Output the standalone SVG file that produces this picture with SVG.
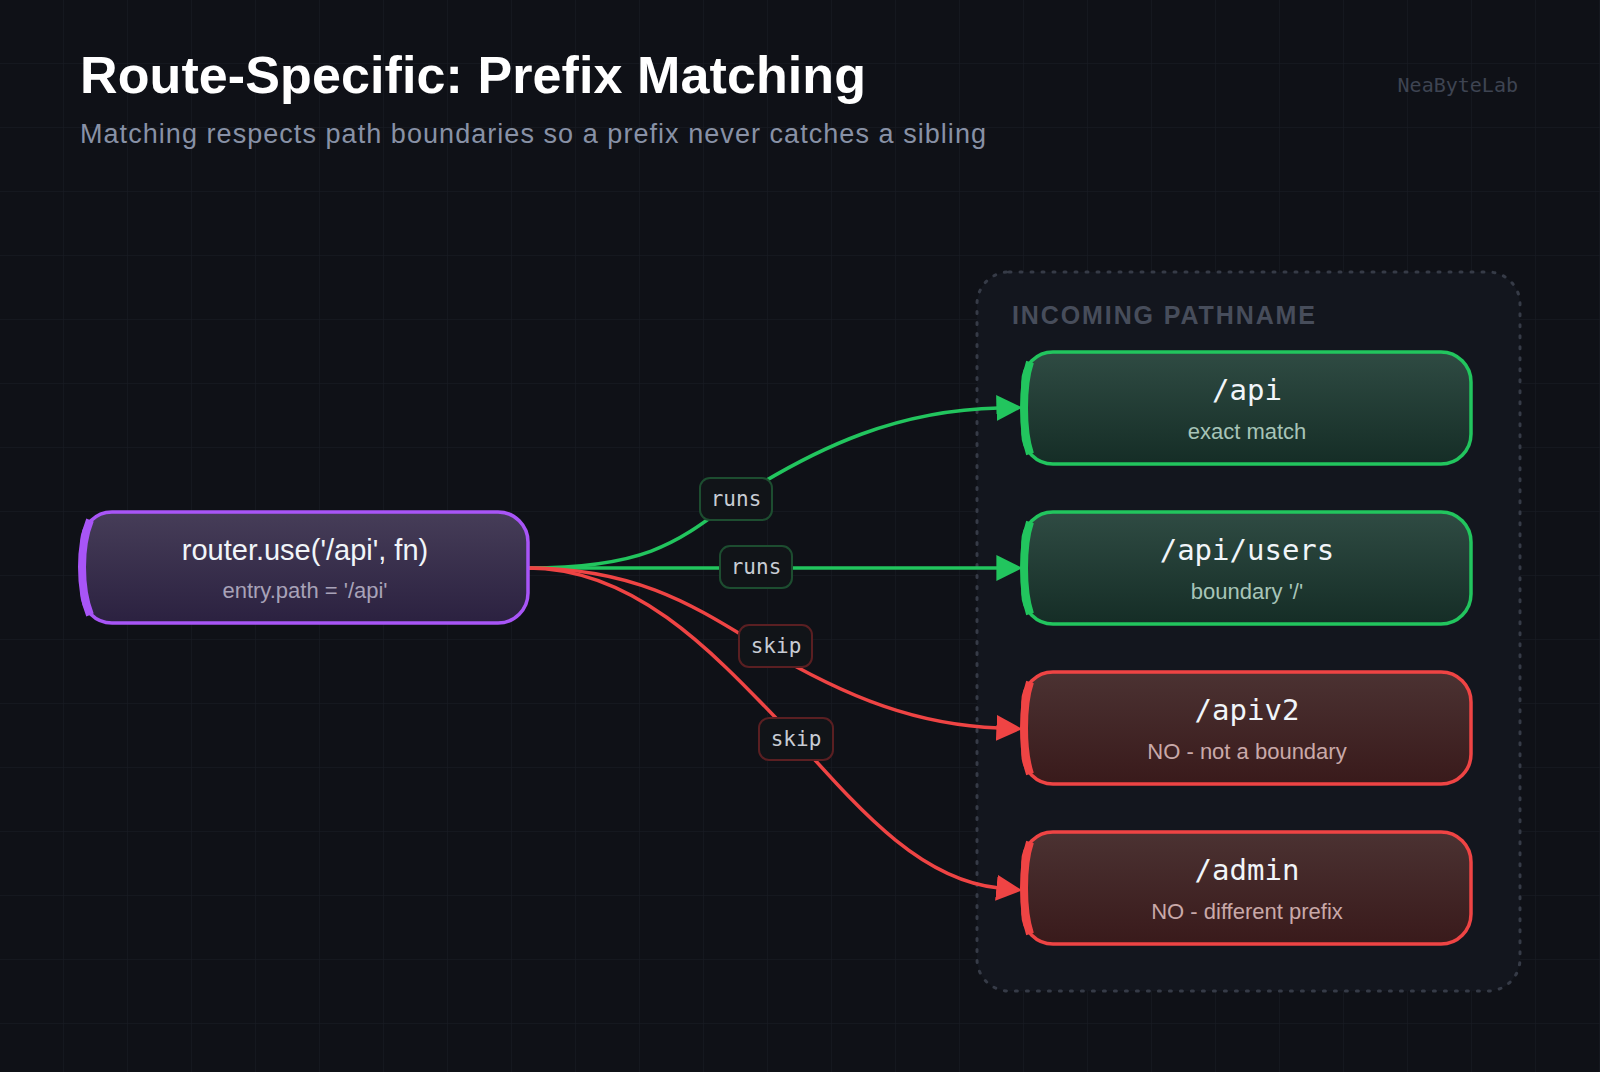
<svg xmlns="http://www.w3.org/2000/svg" width="1600" height="1072" viewBox="0 0 1600 1072">
<defs>
<pattern id="grid" width="64" height="64" patternUnits="userSpaceOnUse"><path d="M64 0V64M0 64H64" fill="none" stroke="#1a1d25" stroke-width="1"/></pattern>
<linearGradient id="gp" x1="0" y1="0" x2="0" y2="1"><stop offset="0" stop-color="#463d58"/><stop offset="1" stop-color="#2b2140"/></linearGradient>
<linearGradient id="gg" x1="0" y1="0" x2="0" y2="1"><stop offset="0" stop-color="#2f4b43"/><stop offset="1" stop-color="#152d26"/></linearGradient>
<linearGradient id="gr" x1="0" y1="0" x2="0" y2="1"><stop offset="0" stop-color="#4b3232"/><stop offset="1" stop-color="#391a1b"/></linearGradient>
<marker id="ag" viewBox="0 0 10 10" refX="1" refY="5" markerWidth="26" markerHeight="26" markerUnits="userSpaceOnUse" orient="auto"><path d="M0 0L10 5L0 10Z" fill="#22c55e"/></marker>
<marker id="ar" viewBox="0 0 10 10" refX="1" refY="5" markerWidth="26" markerHeight="26" markerUnits="userSpaceOnUse" orient="auto"><path d="M0 0L10 5L0 10Z" fill="#ef4444"/></marker>
</defs>
<style>
.t{font-family:"Liberation Sans",Arial,sans-serif}
.m{font-family:"DejaVu Sans Mono","Liberation Mono",monospace}
.nt{font-size:29px;fill:#f1f5f9;text-anchor:middle}
.ns{font-size:22px;text-anchor:middle}
.e{fill:none;stroke-width:3.5}
.lb{fill:#111418;stroke-width:2}
.lt{font-size:21px;fill:#c8ccd4;text-anchor:middle}
</style>
<rect width="1600" height="1072" fill="#0f1117"/>
<rect width="1600" height="1072" fill="url(#grid)"/>
<text class="t" x="80" y="93" font-size="52" font-weight="bold" fill="#ffffff" textLength="786">Route-Specific: Prefix Matching</text>
<text class="t" x="80" y="143" font-size="27" fill="#8891a6" textLength="906">Matching respects path boundaries so a prefix never catches a sibling</text>
<text class="m" x="1518" y="92" font-size="20" fill="#3e4452" text-anchor="end">NeaByteLab</text>
<g id="container">
<rect x="977" y="272" width="543" height="719" rx="32" fill="#13161e" stroke="#363b47" stroke-width="3" stroke-dasharray="2 9" stroke-linecap="round"/>
<text class="t" x="1012" y="324" font-size="25" font-weight="bold" fill="#474d5b" textLength="303">INCOMING PATHNAME</text>
</g>
<g id="connectors">
<path class="e" stroke="#22c55e" d="M528 568C650 568 680 540 736 499C820 445 900 410 999 408" marker-end="url(#ag)"/>
<path class="e" stroke="#22c55e" d="M528 568H999" marker-end="url(#ag)"/>
<path class="e" stroke="#ef4444" d="M528 568C640 568 700 610 760 646C850 700 920 725 999 728" marker-end="url(#ar)"/>
<path class="e" stroke="#ef4444" d="M528 568C640 568 720 660 796 739C860 810 920 880 999 888" marker-end="url(#ar)"/>
<rect class="lb" x="700" y="478" width="72" height="42" rx="10" stroke="#1d4d30"/>
<text class="m lt" x="736" y="506">runs</text>
<rect class="lb" x="720" y="546" width="72" height="42" rx="10" stroke="#1d4d30"/>
<text class="m lt" x="756" y="574">runs</text>
<rect class="lb" x="739" y="625" width="73" height="42" rx="10" stroke="#5a1f22"/>
<text class="m lt" x="776" y="653">skip</text>
<rect class="lb" x="759" y="718" width="74" height="42" rx="10" stroke="#5a1f22"/>
<text class="m lt" x="796" y="746">skip</text>
</g>
<g id="source">
<rect x="82" y="512" width="446" height="111" rx="30" fill="url(#gp)" stroke="#a855f7" stroke-width="3.5"/>
<path d="M90 520Q82 540 82 567Q82 595 90 615" fill="none" stroke="#a855f7" stroke-width="8"/>
<text class="t nt" x="305" y="560" font-size="28">router.use('/api', fn)</text>
<text class="t ns" x="305" y="598" fill="#a8a2b8">entry.path = '/api'</text>
</g>
<g id="n-api">
<rect x="1023" y="352" width="448" height="112" rx="30" fill="url(#gg)" stroke="#22c55e" stroke-width="3.5"/>
<path d="M1030 362Q1024 380 1024 408Q1024 436 1030 454" fill="none" stroke="#22c55e" stroke-width="8"/>
<text class="m nt" x="1247" y="400">/api</text>
<text class="t ns" x="1247" y="439" fill="#a7c4b8">exact match</text>
</g>
<g id="n-users">
<rect x="1023" y="512" width="448" height="112" rx="30" fill="url(#gg)" stroke="#22c55e" stroke-width="3.5"/>
<path d="M1030 522Q1024 540 1024 568Q1024 596 1030 614" fill="none" stroke="#22c55e" stroke-width="8"/>
<text class="m nt" x="1247" y="560">/api/users</text>
<text class="t ns" x="1247" y="599" fill="#a7c4b8">boundary '/'</text>
</g>
<g id="n-apiv2">
<rect x="1023" y="672" width="448" height="112" rx="30" fill="url(#gr)" stroke="#ef4444" stroke-width="3.5"/>
<path d="M1030 682Q1024 700 1024 728Q1024 756 1030 774" fill="none" stroke="#ef4444" stroke-width="8"/>
<text class="m nt" x="1247" y="720">/apiv2</text>
<text class="t ns" x="1247" y="759" fill="#c9a9a9">NO - not a boundary</text>
</g>
<g id="n-admin">
<rect x="1023" y="832" width="448" height="112" rx="30" fill="url(#gr)" stroke="#ef4444" stroke-width="3.5"/>
<path d="M1030 842Q1024 860 1024 888Q1024 916 1030 934" fill="none" stroke="#ef4444" stroke-width="8"/>
<text class="m nt" x="1247" y="880">/admin</text>
<text class="t ns" x="1247" y="919" fill="#c9a9a9">NO - different prefix</text>
</g>
</svg>
